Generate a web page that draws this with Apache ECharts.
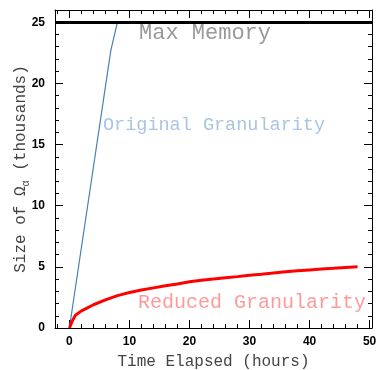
<!DOCTYPE html>
<html><head><meta charset="utf-8">
<script src="https://cdn.jsdelivr.net/npm/echarts@6/dist/echarts.min.js"></script>
<style>html,body{margin:0;padding:0;background:#fff}#c{width:379px;height:370px}</style>
</head><body><div id="c"></div>
<script>
// ---- data ----
const originalHours = [0, 6.9, 8.0];
const originalSize  = [0, 22.7, 25.0];
const reducedHours = [0, 0.5, 1, 2, 3, 4, 6, 8, 10, 12, 14, 16, 18, 20, 22, 24, 26, 28, 30, 32, 34, 36, 38, 40, 42, 44, 46, 48];
const reducedSize  = [0, 0.6, 1.05, 1.4, 1.65, 1.9, 2.3, 2.65, 2.9, 3.1, 3.28, 3.45, 3.6, 3.78, 3.9, 4.0, 4.1, 4.2, 4.32, 4.4, 4.5, 4.6, 4.68, 4.75, 4.82, 4.88, 4.95, 5.0];
const maxMemory = 25;
const xMajorTicks = [0, 10, 20, 30, 40, 50];
const xMinorTicks = [-2, 2, 4, 6, 8, 12, 14, 16, 18, 22, 24, 26, 28, 32, 34, 36, 38, 42, 44, 46, 48];
const yMajorTicks = [0, 5, 10, 15, 20, 25];
const yMinorTicks = [1, 2, 3, 4, 6, 7, 8, 9, 11, 12, 13, 14, 16, 17, 18, 19, 21, 22, 23, 24];
const X_MIN = -2.4, X_MAX = 50.4, Y_MIN = 0, Y_MAX = 26;

const chart = echarts.init(document.getElementById('c'), null, {renderer: 'canvas'});
const lineCol = '#000';
function xAx(pos, ticks, len, labels, line) {
  return {
    type: 'value', position: pos, min: X_MIN, max: X_MAX,
    splitLine: {show: false},
    axisLine: {show: line, onZero: false, lineStyle: {color: lineCol, width: 1}},
    axisTick: {show: true, inside: true, length: len, customValues: ticks, lineStyle: {color: lineCol, width: 1}},
    axisLabel: labels ? {show: true, customValues: ticks, margin: 8, color: '#000', fontFamily: 'Liberation Sans', fontWeight: 'bold', fontSize: 12} : {show: false}
  };
}
function yAx(pos, ticks, len, labels, line) {
  return {
    type: 'value', position: pos, min: Y_MIN, max: Y_MAX,
    splitLine: {show: false},
    axisLine: {show: line, onZero: false, lineStyle: {color: lineCol, width: 1}},
    axisTick: {show: true, inside: true, length: len, customValues: ticks, lineStyle: {color: lineCol, width: 1}},
    axisLabel: labels ? {show: true, customValues: ticks, margin: 10, color: '#000', fontFamily: 'Liberation Sans', fontWeight: 'bold', fontSize: 12} : {show: false}
  };
}
const xMain = xAx('bottom', xMajorTicks, 8, true, true);
xMain.name = 'Time Elapsed (hours)';
xMain.nameLocation = 'middle';
xMain.nameGap = 26;
xMain.nameMoveOverlap = false;
xMain.nameTextStyle = {fontFamily: 'Liberation Mono', fontSize: 16, color: '#444'};
const yMain = yAx('left', yMajorTicks, 8, true, true);
yMain.name = '{a|Size of Ω}{s|α}{a| (thousands)}';
yMain.nameLocation = 'middle';
yMain.nameGap = 24;
yMain.nameMoveOverlap = false;
yMain.nameTextStyle = {
  fontFamily: 'Liberation Mono', fontSize: 16, color: '#444',
  rich: {
    a: {fontFamily: 'Liberation Mono', fontSize: 16, color: '#444', lineHeight: 20, verticalAlign: 'middle'},
    s: {fontFamily: 'Liberation Mono', fontSize: 10, color: '#444', lineHeight: 20, verticalAlign: 'bottom'}
  }
};

chart.setOption({
  animation: false,
  backgroundColor: '#fff',
  grid: {left: 55, right: 7, top: 10, bottom: 42, containLabel: false, outerBoundsMode: 'none'},
  xAxis: [xMain, xAx('bottom', xMinorTicks, 4, false, false), xAx('top', xMajorTicks, 8, false, true), xAx('top', xMinorTicks, 4, false, false)],
  yAxis: [yMain, yAx('left', yMinorTicks, 4, false, false), yAx('right', yMajorTicks, 8, false, true), yAx('right', yMinorTicks, 4, false, false)],
  series: [
    {
      type: 'line', name: 'Original Granularity', xAxisIndex: 0, yAxisIndex: 0,
      data: originalHours.map((h, i) => [h, originalSize[i]]),
      showSymbol: false, symbol: 'none', lineStyle: {color: '#4682b4', width: 1.2}, z: 3,
      markLine: {
        silent: true, symbol: ['none', 'none'], label: {show: false},
        lineStyle: {color: '#000', width: 3, type: 'solid'},
        data: [{yAxis: maxMemory}]
      }
    },
    {
      type: 'line', name: 'Reduced Granularity', xAxisIndex: 0, yAxisIndex: 0,
      data: reducedHours.map((h, i) => [h, reducedSize[i]]),
      showSymbol: false, symbol: 'none', lineStyle: {color: '#ff0000', width: 3}, z: 4
    }
  ],
  graphic: [
    {type: 'text', left: 139, top: 22, style: {text: 'Max Memory', fontFamily: 'Liberation Mono', fontSize: 22, fill: '#999'}},
    {type: 'text', left: 103, top: 116, style: {text: 'Original Granularity', fontFamily: 'Liberation Mono', fontSize: 18.5, fill: '#a9c5e3'}},
    {type: 'text', left: 138, top: 293, style: {text: 'Reduced Granularity', fontFamily: 'Liberation Mono', fontSize: 20, fill: '#ff9a9a'}}
  ]
});
</script>
</body></html>
